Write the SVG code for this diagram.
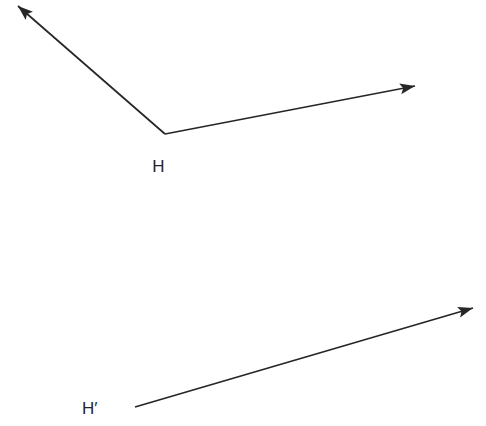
<svg xmlns="http://www.w3.org/2000/svg" width="486" height="426" viewBox="0 0 486 426">
  <defs>
    <style>
      .conn { stroke: #262626; stroke-width: 1.7; fill: none; marker-end: url(#arrow); }
      .lbl { font-family: "Liberation Sans", Arial, sans-serif; font-size: 17px; fill: #262626; }
    </style>
    <marker id="arrow" markerUnits="userSpaceOnUse" markerWidth="18" markerHeight="13" refX="15" refY="5.5" orient="auto">
      <path d="M0,0 L15,5.5 L0,11 L3,5.5 Z" fill="#262626"/>
    </marker>
  </defs>
  <rect width="486" height="426" fill="#ffffff"/>
  <g id="connectors">
    <line class="conn" x1="165" y1="134" x2="18" y2="6"/>
    <line class="conn" x1="165" y1="134" x2="415" y2="86"/>
    <line class="conn" x1="135" y1="407" x2="473" y2="308"/>
  </g>
  <g id="node-H">
    <text class="lbl" x="158.5" y="172" text-anchor="middle">H</text>
  </g>
  <g id="node-H-prime">
    <text class="lbl" x="82" y="414">H′</text>
  </g>
</svg>
